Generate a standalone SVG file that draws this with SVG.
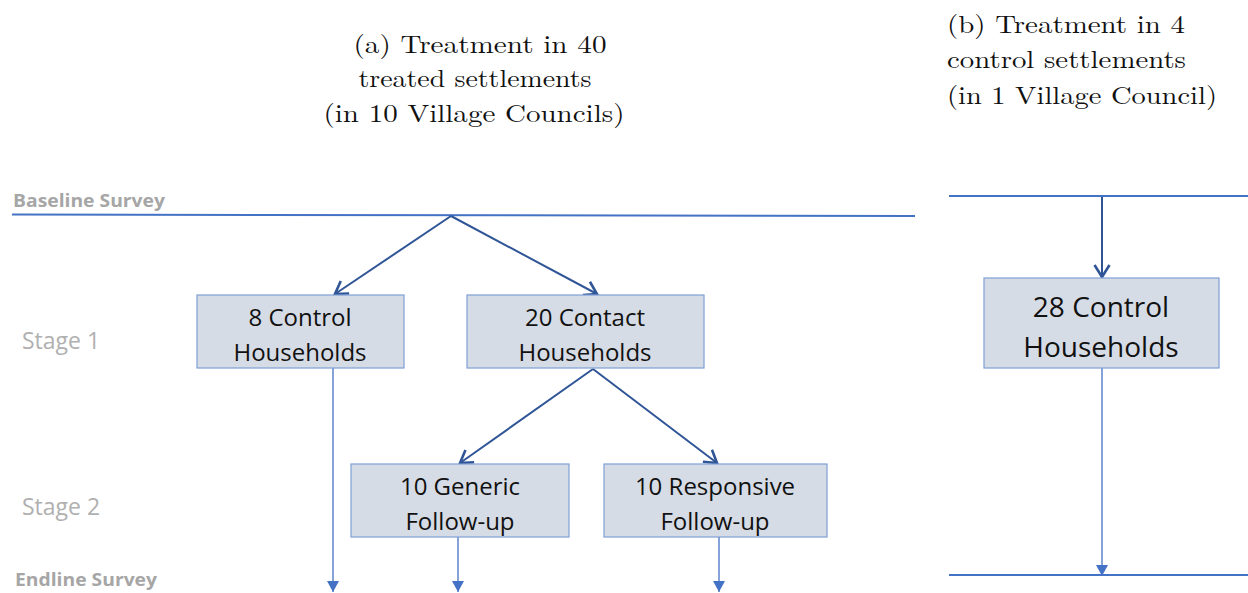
<svg xmlns="http://www.w3.org/2000/svg" width="1248" height="593" viewBox="0 0 1248 593">
<style>
.title{font-family:"Latin Modern Roman","Liberation Serif",serif;font-size:25px;fill:#111}
.box{fill:#D6DCE5;stroke:#7F9FD6;stroke-width:1.2}
.bt{font-family:"Open Sans","Liberation Sans",sans-serif;font-size:24px;fill:#111;text-anchor:middle}
.bt2{font-family:"Open Sans","Liberation Sans",sans-serif;font-size:28px;fill:#111;text-anchor:middle}
.survey{font-family:"Open Sans","Liberation Sans",sans-serif;font-weight:bold;font-size:17px;fill:#A6A6A6}
.stage{font-family:"Open Sans","Liberation Sans",sans-serif;font-size:23px;fill:#B0B0B0}
.hline{stroke:#4472C4;stroke-width:2;fill:none}
.dark{stroke:#2F5597;stroke-width:2;fill:none;marker-end:url(#open)}
.thin{stroke:#4472C4;stroke-width:1.3;fill:none;marker-end:url(#tri)}
</style>
<defs>
<marker id="open" markerUnits="userSpaceOnUse" viewBox="0 0 16 18" markerWidth="16" markerHeight="18" refX="14" refY="9" orient="auto">
<path d="M2,1.5 L14,9 L2,16.5" fill="none" stroke="#2F5597" stroke-width="2.6"/>
</marker>
<marker id="tri" markerUnits="userSpaceOnUse" viewBox="0 0 11 12" markerWidth="11" markerHeight="12" refX="11" refY="6" orient="auto">
<path d="M0,0 L11,6 L0,12 z" fill="#4472C4"/>
</marker>
</defs>
<g id="titles">
<text class="title" x="480" y="53" text-anchor="middle" textLength="253" lengthAdjust="spacingAndGlyphs">(a) Treatment in 40</text>
<text class="title" x="475" y="87" text-anchor="middle" textLength="233" lengthAdjust="spacingAndGlyphs">treated settlements</text>
<text class="title" x="474" y="122" text-anchor="middle" textLength="301" lengthAdjust="spacingAndGlyphs">(in 10 Village Councils)</text>
<text class="title" x="947" y="33" textLength="238" lengthAdjust="spacingAndGlyphs">(b) Treatment in 4</text>
<text class="title" x="947" y="68" textLength="239" lengthAdjust="spacingAndGlyphs">control settlements</text>
<text class="title" x="947" y="104" textLength="270" lengthAdjust="spacingAndGlyphs">(in 1 Village Council)</text>
</g>
<g id="labels">
<text class="survey" x="13" y="207" textLength="152" lengthAdjust="spacingAndGlyphs">Baseline Survey</text>
<text class="stage" x="22" y="349">Stage 1</text>
<text class="stage" x="22" y="515">Stage 2</text>
<text class="survey" x="15" y="586" textLength="142" lengthAdjust="spacingAndGlyphs">Endline Survey</text>
</g>
<g id="connectors">
<line class="hline" x1="12" y1="214.5" x2="915" y2="216"/>
<line class="hline" x1="949" y1="196" x2="1248" y2="196"/>
<line class="hline" x1="949" y1="575" x2="1248" y2="575"/>
<line class="dark" x1="451" y1="216" x2="335" y2="294"/>
<line class="dark" x1="451" y1="216" x2="597" y2="294"/>
<line class="dark" x1="593" y1="369" x2="460" y2="463"/>
<line class="dark" x1="593" y1="369" x2="717" y2="463"/>
<line class="dark" x1="1102" y1="197" x2="1102" y2="277"/>
<line class="thin" x1="333" y1="368" x2="333" y2="592"/>
<line class="thin" x1="458" y1="537" x2="458" y2="592"/>
<line class="thin" x1="719" y1="537" x2="719" y2="592"/>
<line class="thin" x1="1102" y1="368" x2="1102" y2="576"/>
</g>
<g id="n-control8">
<rect class="box" x="197" y="295" width="207" height="73"/>
<text class="bt" x="300" y="326">8 Control</text>
<text class="bt" x="300" y="361">Households</text>
</g>
<g id="n-contact20">
<rect class="box" x="467" y="295" width="237" height="73"/>
<text class="bt" x="585" y="326">20 Contact</text>
<text class="bt" x="585" y="361">Households</text>
</g>
<g id="n-generic">
<rect class="box" x="351" y="464" width="218" height="73"/>
<text class="bt" x="460" y="495">10 Generic</text>
<text class="bt" x="460" y="530">Follow-up</text>
</g>
<g id="n-responsive">
<rect class="box" x="604" y="464" width="223" height="73"/>
<text class="bt" x="715" y="495">10 Responsive</text>
<text class="bt" x="715" y="530">Follow-up</text>
</g>
<g id="n-control28">
<rect class="box" x="984" y="278" width="235" height="90"/>
<text class="bt2" x="1101" y="317">28 Control</text>
<text class="bt2" x="1101" y="357">Households</text>
</g>
</svg>
